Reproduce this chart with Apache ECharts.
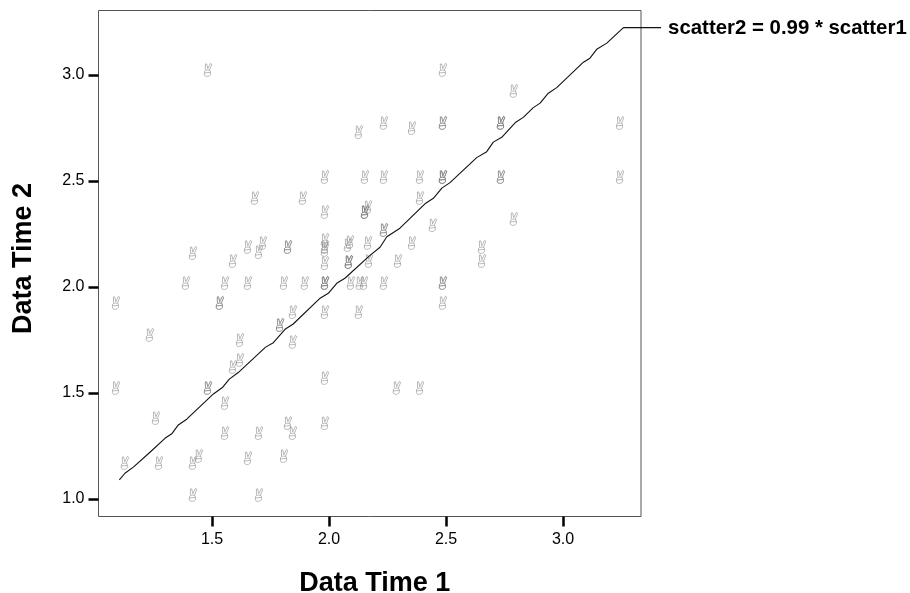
<!DOCTYPE html>
<html><head><meta charset="utf-8">
<script src="https://cdn.jsdelivr.net/npm/echarts@6/dist/echarts.min.js"></script>
<style>html,body{margin:0;padding:0;background:#fff}#c{width:910px;height:593px}</style>
</head><body><div id="c"></div>
<script>
const xTicks = [1.5, 2.0, 2.5, 3.0];
const yTicks = [1.0, 1.5, 2.0, 2.5, 3.0];
const xName = 'Data Time 1';
const yName = 'Data Time 2';
const fitLabel = 'scatter2 = 0.99 * scatter1';
const scatter1 = [
1.483,2.487,2.79,3.244,3.244,2.735,2.735,2.735,2.487,2.487,2.235,2.128,2.355,
2.735,2.735,2.487,2.487,2.487,2.389,2.235,2.154,1.983,
1.684,1.889,2.389,2.167,2.154,2.154,2.154,1.983,2.444,2.79,2.235,2.235,
2.355,2.654,2.654,1.718,1.701,1.654,1.59,1.419,1.825,1.825,1.983,1.983,1.983,2.09,2.081,2.167,
1.983,2.085,2.085,2.085,2.171,2.295,
1.389,1.556,1.654,1.808,1.897,1.983,1.983,1.983,2.094,2.132,2.15,2.235,2.487,2.487,
1.09,1.534,1.534,2.487,
1.791,1.791,1.846,1.983,2.128,1.846,1.62,1.235,1.62,1.59,1.983,
1.09,1.483,1.483,2.29,2.389,1.556,1.261,1.556,1.701,1.825,1.846,1.983,
1.128,1.274,1.419,1.444,1.654,1.808,1.419,1.701];
const scatter2 = [
3.024,3.024,2.925,2.774,2.519,2.774,2.774,2.774,2.774,2.774,2.774,2.731,2.75,
2.519,2.519,2.519,2.519,2.519,2.519,2.519,2.519,2.519,
2.42,2.42,2.42,2.377,2.354,2.354,2.354,2.354,2.292,2.321,2.269,2.269,
2.208,2.189,2.123,2.208,2.165,2.189,2.123,2.16,2.189,2.189,2.222,2.189,2.175,2.212,2.198,2.208,
2.113,2.118,2.118,2.118,2.123,2.123,
2.019,2.019,2.019,2.019,2.019,2.019,2.019,2.019,2.019,2.019,2.019,2.019,2.019,2.019,
1.925,1.925,1.925,1.925,
1.821,1.821,1.882,1.882,1.882,1.741,1.75,1.774,1.656,1.623,1.571,
1.524,1.524,1.524,1.524,1.524,1.453,1.382,1.311,1.311,1.358,1.311,1.358,
1.17,1.17,1.17,1.203,1.193,1.203,1.019,1.019];
const fitX = [1.104,1.128,1.164,1.235,1.299,1.328,1.356,1.392,1.506,1.546,1.574,1.612,1.729,1.762,1.812,1.847,1.962,1.997,2.033,2.068,2.175,2.218,2.247,2.303,2.41,2.446,2.482,2.517,2.631,2.674,2.702,2.738,2.798,2.83,2.873,2.902,2.937,2.973,3.087,3.115,3.144,3.187,3.258,3.419];
const fitY = [1.09,1.121,1.15,1.22,1.286,1.307,1.349,1.376,1.495,1.527,1.565,1.596,1.716,1.737,1.8,1.825,1.947,1.97,2.017,2.041,2.149,2.187,2.237,2.277,2.392,2.418,2.466,2.492,2.61,2.638,2.683,2.706,2.777,2.8,2.846,2.867,2.914,2.94,3.06,3.079,3.121,3.15,3.223,3.223];

const hand = 'path://M2 6.2 L1.9 0.6 L3 0.5 L3.9 5 L6.1 0 L7.2 1 L5.3 6.3 M1.2 7.6 C2 6 5 6 5.9 7 L6.2 10 C5.8 12.6 2 13 1 11 Z M1.2 9 L5.9 8.6';
const font = '"Liberation Sans", Arial, sans-serif';
const chart = echarts.init(document.getElementById('c'), null, {renderer:'canvas'});
chart.setOption({
  animation:false,
  backgroundColor:'#fff',
  grid:[
    {left:98.5,top:10.5,width:542.5,height:506,show:true,borderColor:'#555',borderWidth:1,backgroundColor:'#fff',outerBoundsMode:'none'},
    {left:98.5,top:10.5,width:562.6,height:506,show:false,outerBoundsMode:'none'}
  ],
  xAxis:[{type:'value',gridIndex:0,min:1.015,max:3.333,
    name:xName,nameLocation:'middle',nameGap:54,nameMoveOverlap:false,
    nameTextStyle:{fontFamily:font,fontWeight:'bold',fontSize:27,color:'#000',padding:[0,0,0,10]},
    axisLine:{show:false},splitLine:{show:false},
    axisTick:{show:true,length:10,inside:false,lineStyle:{color:'#000',width:2.5},customValues:xTicks},
    axisLabel:{fontFamily:font,fontSize:16,color:'#000',margin:15,customValues:xTicks,formatter:v=>v.toFixed(1)}},
   {type:'value',gridIndex:1,min:1.015,max:3.419,show:false}],
  yAxis:[{type:'value',gridIndex:0,min:0.917,max:3.304,
    name:yName,nameLocation:'middle',nameGap:61,nameRotate:90,nameMoveOverlap:false,
    nameTextStyle:{fontFamily:font,fontWeight:'bold',fontSize:27,color:'#000',padding:[0,0,0,10]},
    axisLine:{show:false},splitLine:{show:false},
    axisTick:{show:true,length:10,inside:false,lineStyle:{color:'#000',width:2.5},customValues:yTicks},
    axisLabel:{fontFamily:font,fontSize:16,color:'#000',margin:14,customValues:yTicks,formatter:v=>v.toFixed(1)}},
   {type:'value',gridIndex:1,min:0.917,max:3.304,show:false}],
  series:[
    {type:'scatter',xAxisIndex:0,yAxisIndex:0,data:scatter1.map((x,i)=>[x,scatter2[i]]),symbol:hand,symbolSize:[7.5,13],symbolKeepAspect:false,silent:true,
     itemStyle:{color:'rgba(0,0,0,0)',borderColor:'#808080',borderWidth:0.7,opacity:0.75}},
    {type:'line',xAxisIndex:1,yAxisIndex:1,data:fitX.map((x,i)=>[x,fitY[i]]),symbol:'none',clip:false,smooth:false,silent:true,
     lineStyle:{color:'#111',width:1.1},
     endLabel:{show:true,formatter:fitLabel,fontFamily:font,fontWeight:'bold',fontSize:20.4,color:'#000',distance:7,offset:[0,1]}}
  ]
});
</script></body></html>
